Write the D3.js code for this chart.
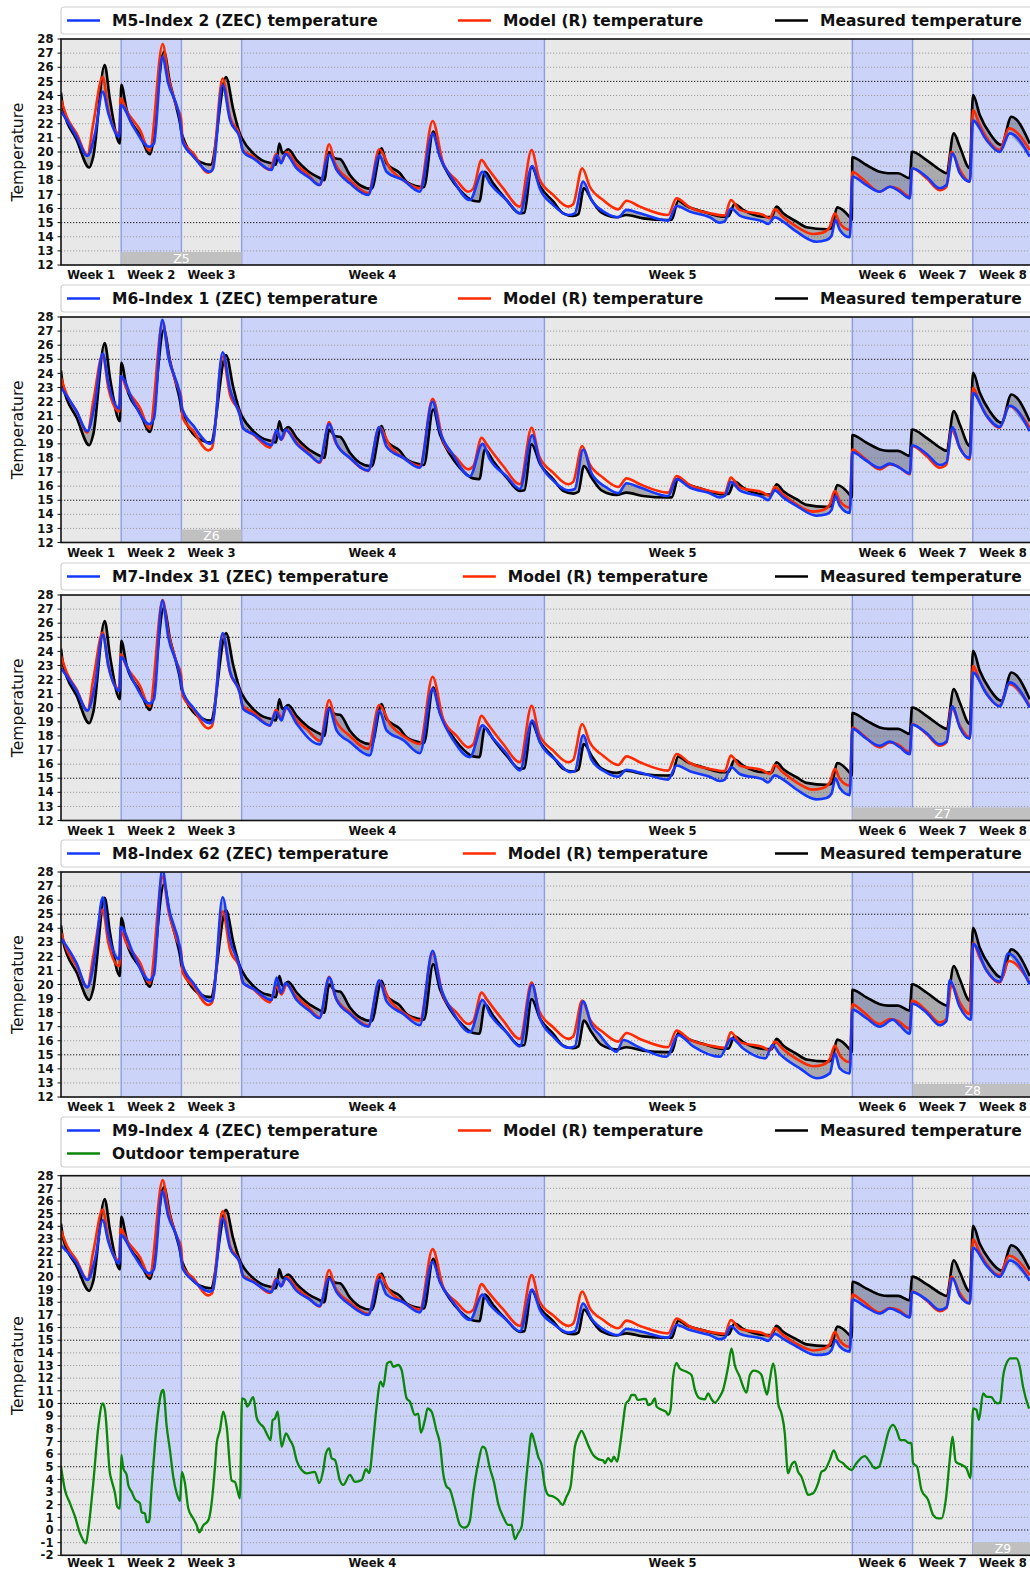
<!DOCTYPE html>
<html>
<head>
<meta charset="utf-8">
<script src="https://cdn.jsdelivr.net/npm/d3@7"></script>
<style>
  body { margin: 0; background: #fff; }
  svg { display: block; font-family: "DejaVu Sans", Verdana, sans-serif; }
</style>
</head>
<body>
<svg id="chart" width="1030" height="1569"></svg>
<script>
// ---- data ---------------------------------------------------------------
// time axis in days; the two long blocks (Week 4, Week 5) cover ~5 weeks each
const weekNames  = ["Week 1", "Week 2", "Week 3", "Week 4", "Week 5", "Week 6", "Week 7", "Week 8"];
const weekTicks  = [3.5, 10.5, 17.5, 36.2, 71.1, 95.5, 102.5, 109.5];
const weekBounds = [0, 7, 14, 21, 56.2, 92, 99, 106, 113];

const sensorNames = ["M5-Index 2", "M6-Index 1", "M7-Index 31", "M8-Index 62", "M9-Index 4"];
const zoneNames   = ["Z5", "Z6", "Z7", "Z8", "Z9"];
const zoneSpans   = [[7, 21], [14, 21], [92, 113], [99, 113], [106, 113]];
const yDomains    = [[12, 28], [12, 28], [12, 28], [12, 28], [-2, 28]];

// measured room temperature [day, °C]
const measured = [
  [0,24.2],[0.27,23.0],[1.82,20.85],[3.29,18.9],[3.75,19.67],[5.08,26.16],[5.69,23.7],[6.85,20.6],[7.0,24.75],
  [7.64,22.97],[9.18,21.2],[10.35,19.85],[11.97,27.1],[12.67,24.9],[13.4,23.2],[13.85,22.0],[14.03,21.3],
  [16.16,19.3],[17.4,19.1],[19.18,25.3],[20.03,23.0],[20.8,21.3],[21.04,20.97],[22.35,19.9],[23.33,19.43],
  [24.49,19.2],[25.0,19.1],[25.37,20.6],[25.77,19.9],[26.42,20.19],[27.39,19.43],[28.56,18.73],[30.3,18.09],
  [30.6,18.0],[31.18,20.0],[31.85,19.55],[32.43,19.5],[33.59,18.37],[34.75,17.66],[36.11,17.4],[37.27,20.26],
  [37.85,19.2],[39.4,18.5],[40.18,17.9],[41.72,17.54],[42.19,17.5],[43.27,21.44],[44.05,19.67],[45.21,18.25],
  [46.37,17.3],[47.92,16.55],[48.64,16.5],[49.28,18.6],[50.24,17.78],[51.8,16.6],[53.35,15.66],[53.87,15.7],
  [54.71,18.96],[55.67,17.6],[57.22,16.5],[58.38,15.66],[59.54,15.47],[60.15,15.6],[60.79,17.43],[61.68,16.6],
  [62.84,15.7],[64.59,15.38],[65.75,15.54],[67.68,15.3],[70.4,15.19],[71.0,15.2],[71.75,16.55],[72.72,16.18],
  [74.65,15.78],[76.98,15.42],[77.6,15.45],[78.3,16.32],[79.3,15.9],[81.63,15.42],[82.6,15.4],[83.18,16.13],
  [83.95,15.66],[85.51,15.07],[86.67,14.67],[88.99,14.53],[89.57,14.6],[90.23,16.08],[91.7,15.38],[91.93,15.2],
  [92.0,19.62],[93.64,19.08],[95.19,18.6],[96.15,18.5],[97.31,18.5],[98.67,18.14],[98.94,20.02],[100.62,19.43],
  [102.54,18.6],[102.94,18.5],[103.79,21.32],[104.49,20.37],[105.65,18.85],[106.03,24.04],[106.81,22.62],
  [107.97,21.32],[109.33,20.5],[110.49,22.5],[111.07,22.3],[112.62,20.6]
];

// model (R) temperature [day, °C]
const model = [
  [0,23.7],[0.66,22.5],[1.82,21.3],[3.06,19.8],[3.75,22.0],[4.85,25.33],[5.5,22.97],[6.78,21.3],[6.94,23.8],
  [7.64,22.9],[9.18,21.56],[10.3,20.1],[11.82,27.65],[12.47,25.33],[13.45,23.2],[13.95,22.4],[14.14,20.85],
  [15.38,19.9],[17.12,18.54],[17.55,18.7],[18.79,25.2],[19.64,22.5],[20.8,21.08],[21.12,20.14],[22.35,19.67],
  [24.29,18.73],[24.99,19.86],[25.65,19.3],[26.23,20.0],[27.39,19.1],[28.56,18.5],[30.1,17.66],[31.18,20.55],
  [31.85,19.2],[33.59,18.0],[35.72,17.08],[37.0,20.2],[38.24,18.85],[39.79,18.0],[41.72,17.43],[43.2,22.2],
  [44.43,19.2],[45.99,18.0],[47.34,17.19],[47.92,17.4],[48.9,19.43],[49.48,18.96],[51.41,17.43],[53.35,16.13],
  [54.71,20.14],[55.6,18.1],[57.22,16.96],[58.96,16.13],[59.54,16.3],[60.59,18.85],[61.48,17.54],[63.03,16.6],
  [64.78,15.94],[65.75,16.55],[67.3,16.13],[70.58,15.54],[71.56,16.72],[73.1,16.08],[75.43,15.66],[77.17,15.5],
  [77.87,16.6],[78.91,15.9],[81.63,15.54],[82.4,15.3],[82.98,15.94],[83.95,15.4],[85.51,14.71],[87.44,14.19],
  [88.6,14.3],[89.38,14.7],[89.96,15.66],[90.54,14.95],[91.7,14.48],[92.0,18.6],[93.1,18.14],[95.19,17.19],
  [96.35,17.54],[97.31,17.4],[98.67,16.84],[98.94,18.85],[100.62,18.14],[102.16,17.3],[102.94,17.54],
  [103.52,20.02],[104.49,18.73],[105.65,17.9],[106.03,22.97],[106.81,21.9],[109.13,20.14],[110.21,21.67],
  [112.62,20.14]
];

// ZEC temperature per sensor [day, °C]
const zecM5 = [
  [0,22.9],[1.82,21.08],[3.06,19.72],[3.95,21.3],[4.85,24.27],[5.5,22.74],[6.78,21.08],[6.94,23.33],[8.4,21.8],
  [10.26,20.37],[10.81,20.6],[11.77,26.75],[12.47,24.86],[13.83,22.3],[14.14,20.73],[15.38,19.7],[17.32,18.6],
  [17.67,18.8],[18.79,24.74],[19.64,22.27],[20.8,20.97],[21.19,20.0],[22.35,19.55],[24.49,18.73],[25.07,19.76],
  [25.57,19.2],[26.11,19.86],[27.39,18.85],[28.94,18.14],[30.03,17.66],[31.18,19.8],[32.04,18.73],[33.59,17.78],
  [35.72,16.96],[37.0,19.76],[37.85,18.6],[39.79,18.0],[41.72,17.19],[43.2,21.3],[44.05,19.67],[45.6,18.0],
  [47.54,16.6],[49.01,18.6],[49.86,17.78],[51.8,16.6],[53.35,15.66],[54.78,19.0],[55.67,17.4],[57.22,16.25],
  [58.96,15.54],[59.73,15.66],[60.7,17.9],[61.68,16.6],[63.42,15.66],[64.78,15.38],[65.75,15.9],[67.3,15.66],
  [70.58,15.14],[71.56,16.18],[73.1,15.78],[75.43,15.38],[76.59,14.99],[77.17,15.1],[77.87,16.0],[78.91,15.5],
  [81.63,15.07],[82.21,14.9],[82.98,15.38],[83.95,15.07],[85.51,14.36],[87.83,13.65],[88.99,13.77],[89.57,14.05],
  [90.04,15.19],[90.54,14.48],[91.7,13.96],[92.0,18.25],[93.64,17.66],[95.19,17.19],[96.35,17.54],[97.51,17.2],
  [98.67,16.72],[98.94,18.85],[100.62,18.25],[102.16,17.43],[102.94,17.66],[103.64,19.9],[104.49,18.5],
  [105.65,17.9],[106.03,22.22],[107.58,20.85],[109.13,20.0],[110.3,21.32],[112.62,19.67]
];
const zecM6 = [
  [0,23.0],[1.82,21.3],[3.06,19.9],[3.95,21.9],[4.85,25.4],[5.5,23.3],[6.78,21.5],[6.94,23.8],[8.4,22.0],
  [10.26,20.4],[10.81,20.8],[11.77,27.8],[12.47,25.2],[13.83,22.5],[14.14,21.4],[15.38,20.3],[17.32,19.0],
  [17.67,19.2],[18.79,25.5],[19.64,22.9],[20.8,21.0],[21.19,20.1],[22.35,19.7],[24.49,18.9],[25.07,20.0],
  [25.57,19.3],[26.11,20.0],[27.39,19.0],[28.94,18.2],[30.03,17.7],[31.18,20.4],[32.04,19.0],[33.59,18.0],
  [35.72,17.1],[37.0,20.2],[37.85,18.8],[39.79,18.0],[41.72,17.3],[43.2,22.0],[44.05,19.9],[45.6,18.2],
  [47.54,16.7],[49.01,19.0],[49.86,17.9],[51.8,16.7],[53.35,15.8],[54.78,19.6],[55.67,17.7],[57.22,16.4],
  [58.96,15.7],[59.73,15.8],[60.7,18.6],[61.68,16.9],[63.42,15.9],[64.78,15.5],[65.75,16.2],[67.3,15.9],
  [70.58,15.3],[71.56,16.5],[73.1,15.9],[75.43,15.5],[76.59,15.2],[77.17,15.3],[77.87,16.3],[78.91,15.7],
  [81.63,15.2],[82.21,15.0],[82.98,15.7],[83.95,15.2],[85.51,14.6],[87.83,13.9],[88.99,14.0],[89.57,14.3],
  [90.04,15.3],[90.54,14.6],[91.7,14.1],[92.0,18.4],[93.64,17.8],[95.19,17.3],[96.35,17.6],[97.51,17.3],
  [98.67,16.9],[98.94,18.9],[100.62,18.3],[102.16,17.5],[102.94,17.7],[103.64,20.2],[104.49,18.7],
  [105.65,18.0],[106.03,22.6],[107.58,21.0],[109.13,20.2],[110.3,21.7],[112.62,19.9]
];
const zecM7 = [
  [0,22.8],[1.82,21.2],[3.06,19.8],[3.95,21.6],[4.85,25.2],[5.5,23.0],[6.78,21.2],[6.94,23.6],[8.4,21.9],
  [10.26,20.3],[10.81,20.6],[11.77,27.6],[12.47,25.0],[13.83,22.3],[14.14,21.2],[15.38,20.0],[17.32,18.9],
  [17.67,19.1],[18.79,25.3],[19.64,22.6],[20.8,21.0],[21.19,19.9],[22.35,19.5],[24.29,18.75],[24.99,19.7],
  [25.65,19.1],[26.11,20.06],[27.39,18.87],[30.1,17.4],[31.18,19.94],[32.04,18.4],[33.59,17.57],[35.9,16.62],
  [37.0,19.8],[37.85,18.4],[39.79,17.7],[41.72,16.78],[43.2,21.36],[44.05,19.58],[45.6,17.7],[47.54,16.5],
  [49.01,18.75],[49.86,18.1],[51.8,16.74],[53.35,15.55],[54.78,19.1],[55.67,17.57],[57.6,16.26],[59.2,15.43],
  [59.73,15.5],[60.7,18.04],[61.68,16.3],[63.42,15.4],[64.78,15.1],[65.75,15.6],[67.3,15.4],[70.58,14.9],
  [71.56,15.9],[73.1,15.5],[75.43,15.1],[76.59,14.8],[77.17,14.9],[77.87,15.8],[78.91,15.3],[81.63,14.9],
  [82.21,14.7],[82.98,15.2],[83.95,14.9],[85.51,14.2],[87.83,13.5],[88.99,13.6],[89.57,13.9],[90.04,15.0],
  [90.54,14.3],[91.7,13.8],[92.0,18.5],[93.64,17.8],[95.19,17.3],[96.35,17.6],[97.51,17.2],[98.67,16.7],
  [98.94,18.8],[100.62,18.2],[102.16,17.4],[102.94,17.6],[103.64,20.1],[104.49,18.6],[105.65,17.8],
  [106.03,22.5],[107.58,21.0],[109.13,20.1],[110.3,21.8],[112.62,20.0]
];
const zecM8 = [
  [0,23.3],[1.82,21.5],[3.06,19.8],[3.95,22.0],[4.85,26.2],[5.5,23.6],[6.78,21.8],[6.94,24.1],[8.4,22.2],
  [10.26,20.3],[10.81,20.7],[11.77,28.2],[12.47,25.6],[13.83,22.6],[14.14,21.4],[15.38,20.1],[17.32,18.8],
  [17.67,19.0],[18.79,26.2],[19.64,23.2],[20.8,21.2],[21.19,20.1],[22.35,19.7],[24.49,18.9],[25.07,20.5],
  [25.57,19.4],[26.11,20.1],[27.39,18.9],[28.94,18.1],[30.03,17.6],[31.18,20.5],[32.04,18.9],[33.59,17.9],
  [35.72,17.0],[37.0,20.3],[37.85,18.8],[39.79,17.9],[41.72,17.1],[43.2,22.4],[44.05,20.0],[45.6,18.0],
  [47.54,16.6],[49.01,18.9],[49.86,17.9],[51.8,16.6],[53.35,15.6],[54.78,20.0],[55.67,17.6],[57.22,16.3],
  [58.96,15.5],[59.73,15.6],[60.7,18.8],[61.68,17.1],[62.65,16.4],[63.42,15.8],[64.59,15.22],[65.38,16.05],
  [67.0,15.6],[70.4,14.86],[71.75,16.4],[73.5,15.6],[76.6,14.86],[77.96,16.17],[79.3,15.45],[81.9,14.75],
  [82.7,15.7],[83.5,15.1],[85.9,14.04],[87.84,13.33],[89.38,13.68],[89.96,15.1],[90.54,14.04],[91.7,13.68],
  [92.0,18.2],[93.64,17.6],[95.19,17.0],[96.7,17.5],[97.51,17.1],[98.67,16.5],[98.94,18.65],[100.62,18.0],
  [102.16,17.1],[102.94,17.4],[103.3,20.3],[104.49,18.4],[105.8,17.5],[106.03,22.9],[107.58,21.0],
  [109.13,20.2],[110.1,22.2],[112.62,20.0]
];
const zecM9 = [
  [0,22.5],[1.82,21.1],[3.06,19.76],[3.95,21.4],[4.85,24.5],[5.5,22.8],[6.78,21.07],[6.94,23.3],[8.4,21.8],
  [10.26,20.28],[10.81,20.6],[11.77,26.74],[12.47,24.8],[13.83,22.2],[14.14,20.68],[15.38,19.7],[17.32,18.83],
  [17.67,19.0],[18.79,24.63],[19.64,22.3],[20.8,21.07],[21.19,20.0],[22.35,19.6],[24.49,18.8],[25.07,19.8],
  [25.57,19.25],[26.11,19.9],[27.39,18.9],[28.94,18.2],[30.03,17.7],[31.18,19.9],[32.04,18.8],[33.59,17.8],
  [35.72,17.0],[37.0,19.8],[37.85,18.6],[39.79,18.0],[41.72,17.2],[43.2,21.2],[44.05,19.6],[45.6,18.0],
  [47.54,16.6],[49.01,18.6],[49.86,17.8],[51.8,16.6],[53.35,15.7],[54.78,19.0],[55.67,17.4],[57.22,16.3],
  [58.96,15.6],[59.73,15.7],[60.7,17.9],[61.68,16.7],[63.42,15.7],[64.78,15.4],[65.75,15.9],[67.3,15.7],
  [70.58,15.2],[71.56,16.2],[73.1,15.8],[75.43,15.4],[76.59,15.07],[77.17,15.2],[77.87,16.1],[78.91,15.5],
  [81.63,15.1],[82.21,14.95],[82.98,15.5],[83.95,15.1],[85.51,14.5],[87.83,13.83],[88.99,13.9],[89.57,14.2],
  [90.04,15.0],[90.54,14.5],[91.7,14.1],[92.0,18.2],[93.64,17.6],[95.19,17.1],[96.35,17.5],[97.51,17.2],
  [98.67,16.8],[98.94,18.8],[100.62,18.2],[102.16,17.4],[102.94,17.6],[103.64,19.9],[104.49,18.5],
  [105.65,17.9],[106.03,22.3],[107.58,20.9],[109.13,20.0],[110.3,21.3],[112.62,19.7]
];
const zecSeries = [zecM5, zecM6, zecM7, zecM8, zecM9];

// outdoor temperature [day, °C]
const outdoor = [
  [0,5.0],[0.46,3.16],[1.05,2.1],[1.63,1.05],[2.21,-0.26],[2.91,-1.05],[3.17,0.0],[3.75,3.69],[4.34,8.16],
  [4.85,10.0],[5.11,9.5],[5.69,4.48],[5.89,3.9],[6.28,2.9],[6.54,1.84],[6.86,1.7],[7.01,5.93],[7.24,4.88],
  [7.64,4.35],[7.82,3.56],[8.22,3.0],[8.6,2.43],[9.18,2.1],[9.38,1.4],[9.76,1.3],[9.96,0.63],[10.23,0.63],
  [10.54,3.4],[10.93,6.85],[11.42,10.0],[11.7,10.93],[11.89,11.07],[12.29,8.16],[12.67,6.3],[13.05,4.2],
  [13.45,2.9],[13.83,2.3],[14.06,4.6],[14.41,3.7],[14.8,1.7],[15.38,0.9],[15.77,0.37],[16.07,-0.18],
  [16.54,0.37],[17.12,0.76],[17.4,1.56],[17.9,4.99],[18.1,6.85],[18.48,7.9],[18.86,9.35],[19.26,8.16],
  [19.84,3.9],[20.22,3.8],[20.49,3.2],[20.8,2.5],[21.04,10.4],[21.39,10.28],[21.65,9.75],[22.35,10.5],
  [22.74,8.9],[23.13,8.4],[23.51,8.16],[24.09,7.37],[24.37,7.1],[24.6,8.7],[24.87,8.8],[25.19,9.35],
  [25.65,6.58],[26.15,7.63],[26.62,7.1],[27.0,6.58],[27.39,5.5],[27.98,4.74],[28.56,4.48],[29.52,4.6],
  [30.02,3.7],[30.49,4.74],[30.8,6.06],[31.18,6.45],[31.46,5.67],[31.85,5.54],[32.43,3.9],[32.81,3.56],
  [33.59,4.35],[34.17,3.8],[34.95,3.95],[35.45,4.8],[35.83,4.5],[36.3,7.1],[36.69,9.75],[37.16,11.72],
  [37.46,11.33],[37.92,13.17],[38.32,13.3],[38.62,12.9],[39.2,13.04],[39.6,12.64],[40.18,10.4],[40.56,10.15],
  [41.14,9.1],[41.53,9.2],[41.84,7.7],[42.31,8.7],[42.62,9.6],[43.08,9.35],[43.67,7.8],[44.05,6.85],
  [44.43,4.48],[44.83,3.43],[45.21,3.2],[45.79,1.84],[46.37,0.4],[46.84,0.18],[47.19,0.26],[47.54,0.76],
  [47.92,2.9],[48.5,5.28],[49.01,6.58],[49.31,6.45],[49.86,4.88],[50.33,3.8],[50.82,2.1],[51.41,1.05],
  [51.99,0.4],[52.38,0.4],[52.77,-0.73],[53.15,-0.26],[53.55,0.26],[53.93,2.9],[54.31,5.54],[54.71,7.63],
  [55.09,6.85],[55.47,5.8],[55.87,5.15],[56.25,3.43],[56.64,2.77],[57.22,2.64],[57.8,2.38],[58.31,1.98],
  [58.77,2.64],[59.24,3.43],[59.74,6.58],[60.12,7.37],[60.52,7.84],[60.9,7.37],[61.29,6.7],[61.87,5.93],
  [62.45,5.6],[63.03,5.5],[63.23,5.28],[63.61,5.67],[64.0,5.4],[64.27,5.8],[64.66,5.4],[64.97,6.58],
  [65.28,8.16],[65.67,10.0],[66.05,10.28],[66.33,10.67],[66.71,10.67],[67.03,10.28],[67.49,10.33],
  [67.99,10.36],[68.26,9.87],[68.66,10.0],[69.04,10.4],[69.24,9.75],[69.82,9.5],[70.32,9.35],[70.58,9.1],
  [70.86,9.5],[71.16,12.1],[71.56,13.2],[71.94,12.76],[72.72,12.5],[73.3,12.24],[73.69,11.1],[74.27,10.4],
  [74.85,10.33],[75.23,10.8],[75.63,10.33],[76.01,10.07],[76.59,10.54],[76.98,11.1],[77.56,12.9],
  [77.95,14.36],[78.33,13.04],[78.91,12.1],[79.3,11.33],[79.69,10.85],[80.08,12.24],[80.54,12.6],
  [81.04,12.5],[81.44,12.24],[81.82,11.2],[82.09,10.7],[82.4,11.85],[82.79,13.17],[83.1,12.1],[83.37,10.0],
  [83.76,9.2],[84.15,7.6],[84.41,5.0],[84.53,4.48],[84.92,5.15],[85.31,5.4],[85.69,4.6],[86.09,4.2],
  [86.47,3.43],[86.85,2.77],[87.44,2.9],[88.02,3.7],[88.41,4.6],[88.8,4.74],[89.38,5.54],[89.84,6.3],
  [90.34,5.54],[90.92,5.28],[91.31,5.0],[91.89,4.74],[92.47,5.28],[93.44,5.84],[94.02,5.4],[94.6,4.88],
  [95.1,5.0],[95.57,6.06],[96.27,7.9],[96.73,8.3],[97.13,7.9],[97.59,7.1],[98.09,7.1],[98.48,6.9],
  [98.87,6.85],[99.06,5.28],[99.52,5.0],[100.03,3.17],[100.8,2.38],[101.38,1.2],[101.96,0.92],[102.36,0.92],
  [102.86,2.38],[103.32,5.54],[103.64,7.37],[104.02,5.4],[104.68,5.15],[105.26,4.88],[105.73,4.1],
  [106.03,9.6],[106.42,9.5],[106.72,8.7],[107.19,10.8],[107.58,10.54],[108.16,10.5],[108.55,10.15],
  [108.94,10.0],[109.21,10.15],[109.52,12.1],[109.91,13.17],[110.41,13.56],[111.07,13.56],[111.46,12.9],
  [111.84,11.33],[112.54,9.6]
];

// ---- layout -------------------------------------------------------------
const plotLeft = 61, plotRight = 1033;
const panelBoxes = [
  { top: 39,     bottom: 265,    legendTop: 7,    legendH: 27, weekDy: 14 },
  { top: 317,    bottom: 542.5,  legendTop: 285,  legendH: 27, weekDy: 14 },
  { top: 595,    bottom: 820.5,  legendTop: 563,  legendH: 27, weekDy: 14 },
  { top: 872,    bottom: 1097,   legendTop: 840,  legendH: 27, weekDy: 14 },
  { top: 1175.7, bottom: 1555.3, legendTop: 1117, legendH: 50, weekDy: 11.3 }
];
const colors = {
  zec: "#1438ff", model: "#ff2a00", measured: "#000000", outdoor: "#0a870a",
  bgGray: "#e8e8e8", bgBlue: "#cbd3f8", boundary: "#8e9de2",
  fill: "rgba(60,60,70,0.36)", zone: "#c0c0c0"
};

const svg = d3.select("#chart");
const x = d3.scaleLinear().domain([0, 113]).range([plotLeft, plotRight]);

// hidden text used to measure legend label widths
const measurer = svg.append("text").attr("font-size", 15.5).attr("font-weight", "bold")
  .attr("visibility", "hidden");
function textWidth(s) { measurer.text(s); return measurer.node().getComputedTextLength(); }
const refLabelWidth = textWidth(sensorNames[0] + " (ZEC) temperature");

sensorNames.forEach((name, i) => {
  const box = panelBoxes[i];
  const isLast = i === sensorNames.length - 1;
  const y = d3.scaleLinear().domain(yDomains[i]).range([box.bottom, box.top]);
  const g = svg.append("g");

  const clipId = "clip" + i;
  svg.append("clipPath").attr("id", clipId).append("rect")
    .attr("x", plotLeft).attr("y", box.top)
    .attr("width", plotRight - plotLeft).attr("height", box.bottom - box.top);

  const plot = g.append("g").attr("clip-path", `url(#${clipId})`);

  // alternating week backgrounds
  plot.selectAll("rect.seg").data(d3.pairs(weekBounds)).join("rect")
    .attr("x", d => x(d[0])).attr("y", box.top)
    .attr("width", d => x(d[1]) - x(d[0])).attr("height", box.bottom - box.top)
    .attr("fill", (d, k) => k % 2 === 0 ? colors.bgGray : colors.bgBlue);

  // horizontal dotted grid
  const ticks = d3.range(yDomains[i][0], yDomains[i][1] + 1);
  plot.selectAll("line.grid").data(ticks.slice(1, -1)).join("line")
    .attr("x1", plotLeft).attr("x2", plotRight)
    .attr("y1", d => y(d)).attr("y2", d => y(d))
    .attr("stroke", d => d % 5 === 0 ? "#1a1a1a" : "#a0a0a0")
    .attr("stroke-width", 1)
    .attr("stroke-dasharray", d => d % 5 === 0 ? "1.3,1.7" : "1.2,1.8");

  // week boundaries
  plot.selectAll("line.bound").data(weekBounds.slice(1, -1)).join("line")
    .attr("x1", d => x(d)).attr("x2", d => x(d))
    .attr("y1", box.top).attr("y2", box.bottom)
    .attr("stroke", colors.boundary).attr("stroke-width", 1.4);

  // zone marker bar
  const zs = zoneSpans[i];
  plot.append("rect")
    .attr("x", x(zs[0])).attr("y", box.bottom - 13)
    .attr("width", x(zs[1]) - x(zs[0])).attr("height", 13)
    .attr("fill", colors.zone);
  plot.append("text")
    .attr("x", (x(zs[0]) + x(zs[1])) / 2)
    .attr("y", box.bottom - 2.5)
    .attr("text-anchor", "middle").attr("font-size", 12.5).attr("fill", "#fff")
    .text(zoneNames[i]);

  const line = d3.line().x(d => x(d[0])).y(d => y(d[1])).curve(d3.curveMonotoneX);
  const zec = zecSeries[i];

  // band between measured and ZEC
  const revLine = d3.line().x(d => x(d[0])).y(d => y(d[1]));
  const band = line(measured) + "L" + revLine(zec.slice().reverse()).slice(1) + "Z";
  plot.append("path").attr("d", band).attr("fill", colors.fill).attr("stroke", "none");

  if (isLast) {
    plot.append("path").datum(outdoor).attr("d", line)
      .attr("fill", "none").attr("stroke", colors.outdoor).attr("stroke-width", 2.3)
      .attr("stroke-linejoin", "round");
  }
  [[measured, colors.measured], [model, colors.model], [zec, colors.zec]].forEach(([data, c]) => {
    plot.append("path").datum(data).attr("d", line)
      .attr("fill", "none").attr("stroke", c).attr("stroke-width", 2.6)
      .attr("stroke-linejoin", "round");
  });

  // frame
  g.append("rect").attr("x", plotLeft).attr("y", box.top)
    .attr("width", plotRight - plotLeft).attr("height", box.bottom - box.top)
    .attr("fill", "none").attr("stroke", "#111").attr("stroke-width", 1.6);

  // y axis ticks and labels
  g.selectAll("line.tick").data(ticks).join("line")
    .attr("x1", plotLeft - 3.5).attr("x2", plotLeft)
    .attr("y1", d => y(d)).attr("y2", d => y(d))
    .attr("stroke", "#111").attr("stroke-width", 1);
  g.selectAll("text.ytick").data(ticks).join("text")
    .attr("x", plotLeft - 7.5).attr("y", d => y(d)).attr("dy", "0.36em")
    .attr("text-anchor", "end").attr("font-size", 11.6).attr("font-weight", "bold")
    .attr("fill", "#111").text(d => d);

  // week labels
  g.selectAll("text.week").data(weekTicks).join("text")
    .attr("x", d => x(d)).attr("y", box.bottom + box.weekDy)
    .attr("text-anchor", "middle").attr("font-size", 11.6).attr("font-weight", "bold")
    .attr("fill", "#111").text((d, k) => weekNames[k]);

  // y title
  g.append("text")
    .attr("transform", `translate(23,${(box.top + box.bottom) / 2}) rotate(-90)`)
    .attr("text-anchor", "middle").attr("font-size", 15.6).attr("fill", "#111")
    .text("Temperature");

  // legend
  const entries = [
    { label: name + " (ZEC) temperature", color: colors.zec },
    { label: "Model (R) temperature", color: colors.model },
    { label: "Measured temperature", color: colors.measured }
  ];
  if (isLast) entries.push({ label: "Outdoor temperature", color: colors.outdoor });
  const firstW = textWidth(entries[0].label);
  const colX = [67, 458 + (firstW - refLabelWidth) * 0.45, 775];

  g.append("rect").attr("x", plotLeft).attr("y", box.legendTop)
    .attr("width", 1100).attr("height", box.legendH).attr("rx", 3)
    .attr("fill", "#fff").attr("stroke", "#d0d0d0").attr("stroke-width", 1.2);
  entries.forEach((e, k) => {
    const cx = colX[k % 3];
    const cy = box.legendTop + 13.5 + Math.floor(k / 3) * 23;
    g.append("line").attr("x1", cx).attr("x2", cx + 33).attr("y1", cy).attr("y2", cy)
      .attr("stroke", e.color).attr("stroke-width", 2.6);
    g.append("text").attr("x", cx + 45).attr("y", cy).attr("dy", "0.36em")
      .attr("font-size", 15.5).attr("font-weight", "bold").attr("fill", "#111")
      .text(e.label);
  });
});
measurer.remove();
</script>
</body>
</html>
